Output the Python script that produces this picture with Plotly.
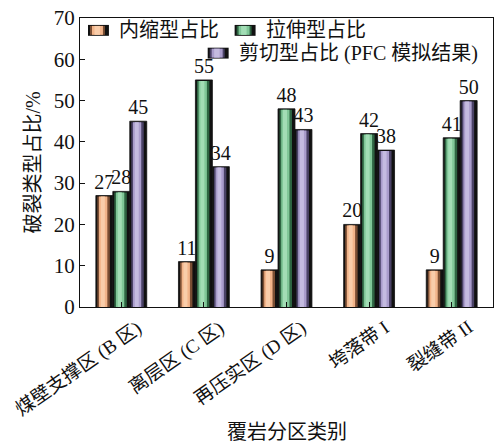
import plotly.graph_objects as go

# ---- data -------------------------------------------------------------
categories = ["煤壁支撑区 (B 区)", "离层区 (C 区)", "再压实区 (D 区)", "垮落带 I", "裂缝带 II"]
series_names = ["内缩型占比", "拉伸型占比", "剪切型占比 (PFC 模拟结果)"]
shrink_pct = [27, 11, 9, 20, 9]
tensile_pct = [28, 55, 48, 42, 41]
shear_pct = [45, 34, 43, 38, 50]
series_values = [shrink_pct, tensile_pct, shear_pct]
y_ticks = [0, 10, 20, 30, 40, 50, 60, 70]

# ---- style ------------------------------------------------------------
SERIF = "Liberation Serif, Noto Sans CJK SC"
main_cols = ["#F2B48A", "#80C798", "#A99CCB"]
dark_cols = ["#7A4E33", "#2E6542", "#4A4266"]
light_cols = ["#F9CDAA", "#A2DDB5", "#C4BBE0"]

# plot area in pixels
L, R, T, B = 80, 494, 15, 307
cat_px = (R - L) / len(categories)          # pixels per category
px = 1.0 / cat_px                            # one pixel in category units
bar_w = 17 * px
group_left = -25.5 * px
top_edge = 70 / (B - T)                      # one pixel in data units

fig = go.Figure()

for i, (name, vals) in enumerate(zip(series_names, series_values)):
    off = group_left + i * bar_w
    # black body of the bar (carries the value label)
    fig.add_trace(go.Bar(
        x=list(range(len(categories))), y=vals, width=bar_w, offset=off,
        marker=dict(color="#111111", line=dict(color="#111111", width=0.8)),
        text=[str(v) for v in vals], textposition="outside", constraintext="none",
        textfont=dict(family=SERIF, size=20, color="#111111"),
        cliponaxis=False, showlegend=False, hoverinfo="skip"))
    inner = [v - top_edge for v in vals]
    # shaded cylinder look: dark rim, main colour, highlight
    for x0, x1, col in [(1.5, 14.0, dark_cols[i]), (3.2, 11.5, main_cols[i]), (5.0, 9.0, light_cols[i])]:
        fig.add_trace(go.Bar(
            x=list(range(len(categories))), y=inner, width=(x1 - x0) * px, offset=off + x0 * px,
            marker=dict(color=col, line=dict(width=0)),
            showlegend=False, hoverinfo="skip"))

# ---- manual legend ----------------------------------------------------
def xp(p):
    return (p - L) / (R - L)

def yp(p):
    return (B - p) / (B - T)

legend_pos = [(88, 27.5), (235, 27.5), (208, 50.5)]
shapes = []
annotations = []
for i, (sx, sy) in enumerate(legend_pos):
    sw, sh = 21, 11
    shapes.append(dict(type="rect", xref="paper", yref="paper",
                       x0=xp(sx), x1=xp(sx + sw), y0=yp(sy + sh / 2), y1=yp(sy - sh / 2),
                       fillcolor="#111111", line=dict(width=0), layer="above"))
    for a, b, col in [(2, 17, dark_cols[i]), (4, 15, main_cols[i]), (6.5, 12, light_cols[i])]:
        shapes.append(dict(type="rect", xref="paper", yref="paper",
                           x0=xp(sx + a), x1=xp(sx + b), y0=yp(sy + sh / 2 - 1), y1=yp(sy - sh / 2 + 1),
                           fillcolor=col, line=dict(width=0), layer="above"))
    annotations.append(dict(text=series_names[i], xref="paper", yref="paper",
                            x=xp(sx + sw + 8), y=yp(sy), xanchor="left", yanchor="middle",
                            showarrow=False, font=dict(family=SERIF, size=20, color="#111111")))

# rotated category labels
for i, c in enumerate(categories):
    annotations.append(dict(text=c, xref="x", yref="paper", x=i, y=0,
                            xshift=27, yshift=-7, xanchor="right", yanchor="top",
                            textangle=-35, showarrow=False,
                            font=dict(family=SERIF, size=19, color="#111111")))

# axis titles
annotations.append(dict(text="覆岩分区类别", xref="paper", yref="paper",
                        x=0.5, y=yp(433), xanchor="center", yanchor="middle",
                        showarrow=False, font=dict(family=SERIF, size=20, color="#111111")))
annotations.append(dict(text="破裂类型占比/%", xref="paper", yref="paper",
                        x=xp(32), y=0.5, xanchor="center", yanchor="middle", textangle=-90,
                        showarrow=False, font=dict(family=SERIF, size=20, color="#111111")))

fig.update_layout(
    width=500, height=446,
    margin=dict(l=L, r=500 - R, t=T, b=446 - B),
    barmode="overlay",
    plot_bgcolor="white", paper_bgcolor="white",
    showlegend=False,
    shapes=shapes, annotations=annotations,
    xaxis=dict(range=[-0.5, len(categories) - 0.5], tickmode="array",
               tickvals=list(range(len(categories))), showticklabels=False,
               ticks="inside", ticklen=5, tickcolor="#111111",
               showline=True, linecolor="#111111", linewidth=1, mirror=True,
               showgrid=False, zeroline=False),
    yaxis=dict(range=[0, 70], tickmode="array", tickvals=y_ticks,
               ticks="inside", ticklen=5, tickcolor="#111111",
               tickfont=dict(family=SERIF, size=21, color="#111111"),
               showline=True, linecolor="#111111", linewidth=1, mirror=True,
               showgrid=False, zeroline=False),
)

fig.write_html("out.html")
